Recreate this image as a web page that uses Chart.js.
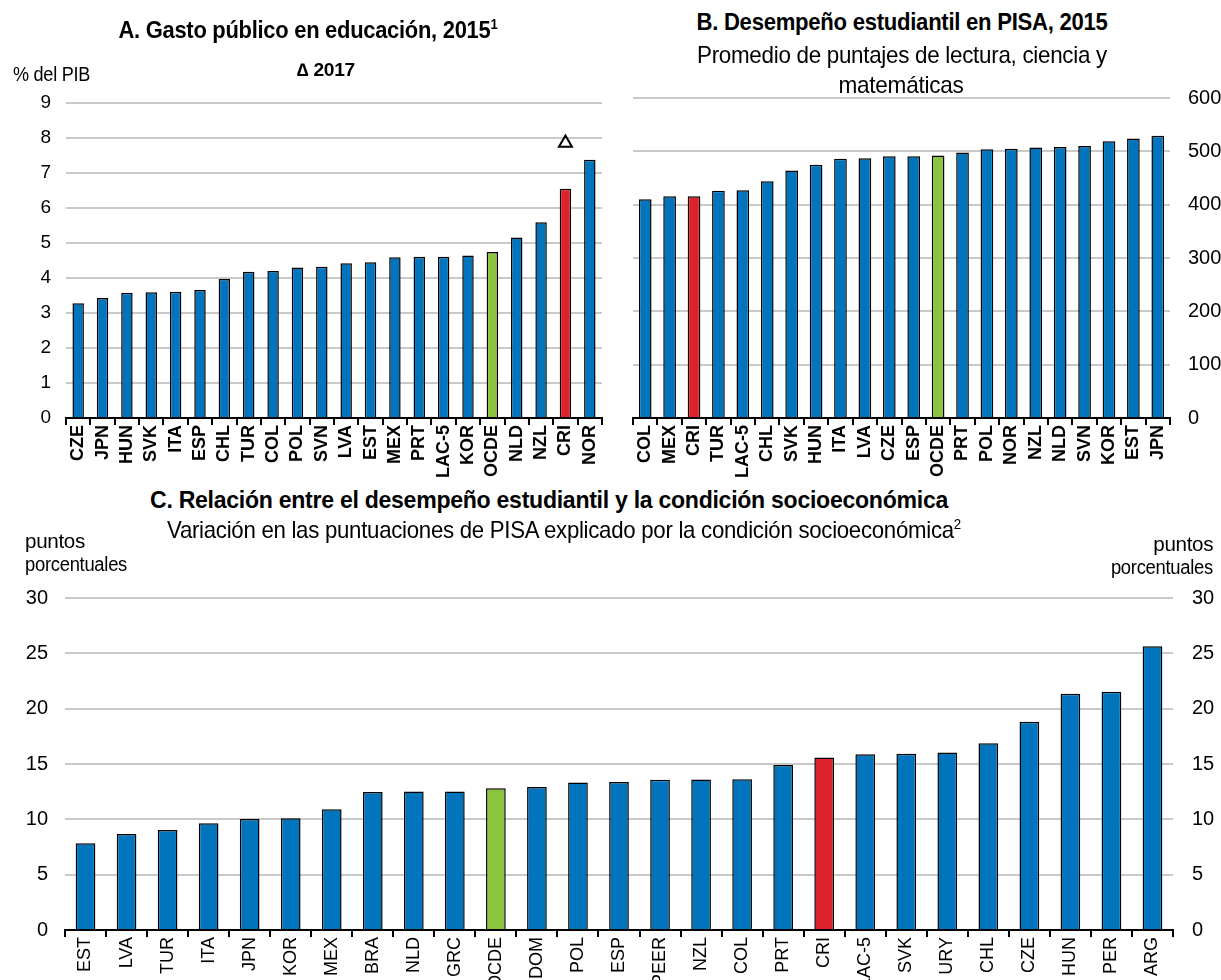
<!DOCTYPE html>
<html>
<head>
<meta charset="utf-8">
<script src="https://cdn.jsdelivr.net/npm/chart.js@4.4.1/dist/chart.umd.min.js"></script>
<style>
  body { margin: 0; background: #fff; }
  #wrap { position: relative; width: 1221px; height: 980px; overflow: hidden; color: #000;
          font-family: "Liberation Sans Narrow", "Arial Narrow", "Liberation Sans", sans-serif; }
  .box { position: absolute; }
  .txt { position: absolute; white-space: nowrap; line-height: 1; letter-spacing: -0.3px; z-index: 2; transform-origin: left center; }
  .c { transform: translateX(-50%); text-align: center; transform-origin: center center; }
  .r { transform-origin: right center; text-align: right; }
  .b { font-weight: bold; }
  sup { font-size: 60%; vertical-align: 0.6em; line-height: 0; }
</style>
</head>
<body>
<div id="wrap">
  <div class="txt c b fit" data-w="379" style="left:308px; top:18px; font-size:24px;">A. Gasto público en educación, 2015<sup>1</sup></div>
  <div class="txt fit" data-w="77" style="left:13px; top:64px; font-size:20px;">% del PIB</div>
  <div class="txt b fit" data-w="58" style="left:297px; top:61px; font-size:18px;">∆ 2017</div>

  <div class="txt c b fit" data-w="411" style="left:902px; top:10px; font-size:24px;">B. Desempeño estudiantil en PISA, 2015</div>
  <div class="txt c fit" data-w="410" style="left:902px; top:43px; font-size:24px;">Promedio de puntajes de lectura, ciencia y</div>
  <div class="txt c fit" data-w="125" style="left:901px; top:73px; font-size:24px;">matemáticas</div>

  <div class="txt c b fit" data-w="798" style="left:549px; top:488px; font-size:24px;">C. Relación entre el desempeño estudiantil y la condición socioeconómica</div>
  <div class="txt c fit" data-w="794" style="left:564px; top:518px; font-size:24px;">Variación en las puntuaciones de PISA explicado por la condición socioeconómica<sup>2</sup></div>
  <div class="txt fit" data-w="60" style="left:25px; top:531px; font-size:20px;">puntos</div>
  <div class="txt fit" data-w="102" style="left:25px; top:554px; font-size:20px;">porcentuales</div>
  <div class="txt r fit" data-w="60" style="right:8px; top:534px; font-size:20px;">puntos</div>
  <div class="txt r fit" data-w="102" style="right:8px; top:557px; font-size:20px;">porcentuales</div>

  <div class="box" style="left:0; top:40px; width:612px; height:440px;"><canvas id="chartA"></canvas></div>
  <div class="box" style="left:612px; top:40px; width:609px; height:440px;"><canvas id="chartB"></canvas></div>
  <div class="box" style="left:0; top:540px; width:1221px; height:440px;"><canvas id="chartC"></canvas></div>
</div>

<script>
// A. Gasto público en educación, 2015 (% del PIB)
const catsA = ['CZE','JPN','HUN','SVK','ITA','ESP','CHL','TUR','COL','POL','SVN','LVA','EST','MEX','PRT','LAC-5','KOR','OCDE','NLD','NZL','CRI','NOR'];
const gastoA = [3.28,3.43,3.58,3.59,3.61,3.66,3.97,4.18,4.20,4.30,4.32,4.42,4.45,4.59,4.61,4.61,4.64,4.74,5.16,5.59,6.55,7.38];
const gasto2017 = [null,null,null,null,null,null,null,null,null,null,null,null,null,null,null,null,null,null,null,null,7.86,null];
const ticksA = [0,1,2,3,4,5,6,7,8,9];

// B. Desempeño estudiantil en PISA, 2015
const catsB = ['COL','MEX','CRI','TUR','LAC-5','CHL','SVK','HUN','ITA','LVA','CZE','ESP','OCDE','PRT','POL','NOR','NZL','NLD','SVN','KOR','EST','JPN'];
const pisaB = [410,416,416,426,427,444,464,475,486,487,491,491,492,498,504,505,507,508,510,519,524,529];
const ticksB = [0,100,200,300,400,500,600];

// C. Variación explicada por la condición socioeconómica (puntos porcentuales)
const catsC = ['EST','LVA','TUR','ITA','JPN','KOR','MEX','BRA','NLD','GRC','OCDE','DOM','POL','ESP','PEER','NZL','COL','PRT','CRI','LAC-5','SVK','URY','CHL','CZE','HUN','PER','ARG'];
const varC = [7.84,8.68,9.04,9.65,10.04,10.10,10.91,12.48,12.51,12.51,12.81,12.93,13.33,13.38,13.57,13.60,13.63,14.90,15.59,15.89,15.92,16.04,16.88,18.81,21.34,21.53,25.63];
const ticksC = [0,5,10,15,20,25,30];

const blue = '#0074bd', red = '#dc222a', green = '#8cc43f', gridGrey = '#c9c9c9';
const narrow = '"Liberation Sans Narrow", "Arial Narrow", "Liberation Sans", sans-serif';
const wide = '"Liberation Sans", Arial, sans-serif';

// squeeze the html texts to the widths they have in the original (narrow face)
document.querySelectorAll('.fit').forEach(el => {
  const w = el.getBoundingClientRect().width;
  const k = parseFloat(el.dataset.w) / w;
  el.style.transform = (el.classList.contains('c') ? 'translateX(-50%) ' : '') + 'scaleX(' + k + ')';
});

Chart.defaults.animation = false;
Chart.defaults.color = '#000';

function colorsFor(cats) {
  return cats.map(c => c === 'CRI' ? red : (c === 'OCDE' ? green : blue));
}

function barSet(cats, values, pct) {
  return {
    type: 'bar',
    data: values,
    backgroundColor: colorsFor(cats),
    borderColor: '#000',
    borderWidth: 1.5,
    barPercentage: pct,
    categoryPercentage: 1,
    order: 2
  };
}

function xAxis(height, size, weight) {
  return {
    offset: true,
    grid: { offset: true, drawOnChartArea: false, drawTicks: true, tickLength: 7, color: '#000', lineWidth: 2 },
    border: { display: true, color: '#000', width: 2 },
    ticks: { autoSkip: false, minRotation: 90, maxRotation: 90, padding: 0,
             font: { family: wide, size: size, weight: weight } },
    afterFit: s => { s.height = height; }
  };
}

function yAxis(pos, tickVals, width, pad, showGrid, size) {
  return {
    position: pos,
    min: tickVals[0],
    max: tickVals[tickVals.length - 1],
    afterBuildTicks: s => { s.ticks = tickVals.map(v => ({ value: v })); },
    ticks: { padding: pad, font: { family: narrow, size: size } },
    grid: { display: showGrid, drawTicks: false, lineWidth: 2,
            color: c => (c.tick && c.tick.value === 0) ? 'rgba(0,0,0,0)' : gridGrey },
    border: { display: false },
    afterFit: s => { s.width = width; }
  };
}

const common = {
  responsive: true,
  maintainAspectRatio: false,
  plugins: { legend: { display: false }, tooltip: { enabled: false } }
};

new Chart(document.getElementById('chartA'), {
  data: {
    labels: catsA,
    datasets: [
      barSet(catsA, gastoA, 0.47),
      { type: 'line', data: gasto2017, showLine: false, order: 1,
        pointStyle: 'triangle', pointRadius: 7.5, pointBorderWidth: 2,
        pointBorderColor: '#000', pointBackgroundColor: 'rgba(0,0,0,0)' }
    ]
  },
  options: Object.assign({}, common, {
    layout: { padding: { top: 63, right: 10, left: 0, bottom: 0 } },
    scales: { x: xAxis(62, 18, 'bold'), y: yAxis('left', ticksA, 66, 15, true, 19) }
  })
});

new Chart(document.getElementById('chartB'), {
  data: { labels: catsB, datasets: [barSet(catsB, pisaB, 0.52)] },
  options: Object.assign({}, common, {
    layout: { padding: { top: 58, right: 0, left: 21, bottom: 0 } },
    scales: { x: xAxis(62, 18, 'bold'), y: yAxis('right', ticksB, 51, 18, true, 20) }
  })
});

new Chart(document.getElementById('chartC'), {
  data: { labels: catsC, datasets: [barSet(catsC, varC, 0.48)] },
  options: Object.assign({}, common, {
    layout: { padding: { top: 58, right: 0, left: 0, bottom: 0 } },
    scales: {
      x: xAxis(50, 18, 'normal'),
      y: yAxis('left', ticksC, 65, 17, true, 20),
      y2: yAxis('right', ticksC, 48, 19, false, 20)
    }
  })
});
</script>
</body>
</html>
